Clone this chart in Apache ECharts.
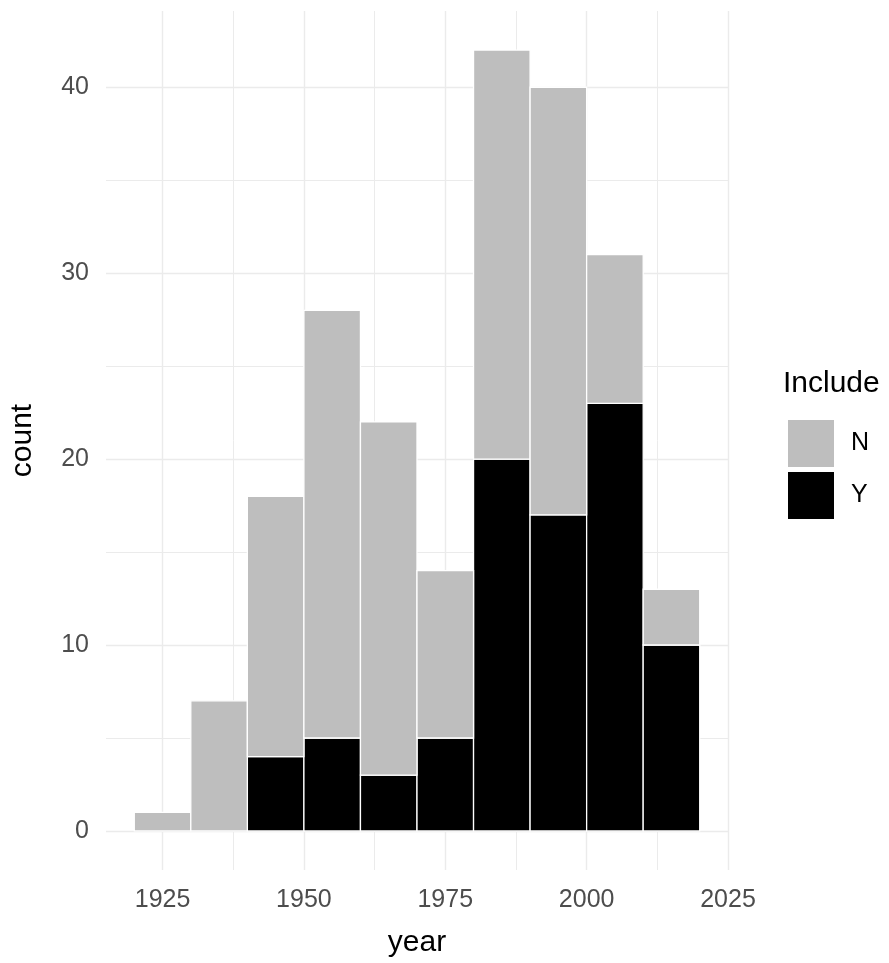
<!DOCTYPE html>
<html>
<head>
<meta charset="utf-8">
<script src="https://cdn.jsdelivr.net/npm/echarts@6/dist/echarts.min.js"></script>
<style>
html,body{margin:0;padding:0;background:#fff;}
#chart{width:889px;height:963px;}
</style>
</head>
<body>
<div id="chart"></div>
<script>
// Histogram bins (binwidth 10 years)
const binStarts = [1920, 1930, 1940, 1950, 1960, 1970, 1980, 1990, 2000, 2010];
const binWidth = 10;
// counts per bin
const countY = [0, 0, 4, 5, 3, 5, 20, 17, 23, 10];
const countN = [1, 7, 14, 23, 19, 9, 22, 23, 8, 3];
const xTicks = [1925, 1950, 1975, 2000, 2025];
const xMinor = [1937.5, 1962.5, 1987.5, 2012.5];
const yTicks = [0, 10, 20, 30, 40];
const yMinor = [5, 15, 25, 35];

const FONT = 'Liberation Sans, Arial, sans-serif';
const colorN = '#bebebe';
const colorY = '#000000';

// stacked: Y at bottom, N on top
const dataY = [], dataN = [];
binStarts.forEach((s, i) => {
  if (countY[i] > 0) dataY.push([s, s + binWidth, 0, countY[i]]);
  if (countN[i] > 0) dataN.push([s, s + binWidth, countY[i], countY[i] + countN[i]]);
});

function makeRender(color) {
  return function (params, api) {
    const p0 = api.coord([api.value(0), api.value(2)]);
    const p1 = api.coord([api.value(1), api.value(3)]);
    return {
      type: 'rect',
      shape: { x: p0[0], y: p1[1], width: p1[0] - p0[0], height: p0[1] - p1[1] },
      style: { fill: color, stroke: '#ffffff', lineWidth: 1.3 }
    };
  };
}

const gridColor = '#ebebeb';
const chart = echarts.init(document.getElementById('chart'), null, { renderer: 'canvas' });
chart.setOption({
  animation: false,
  backgroundColor: '#ffffff',
  title: {
    text: 'Include', left: 778, top: 364,
    textStyle: { fontFamily: FONT, fontSize: 30, fontWeight: 'normal', color: '#000' }
  },
  legend: {
    orient: 'vertical', left: 783, top: 415,
    itemWidth: 46, itemHeight: 47, itemGap: 5,
    icon: 'rect',
    data: [
      { name: 'N', itemStyle: { color: colorN } },
      { name: 'Y', itemStyle: { color: colorY } }
    ],
    textStyle: { fontFamily: FONT, fontSize: 25, color: '#000', padding: [0, 0, 0, 12] }
  },
  grid: { left: 101, top: 11, width: 627, height: 859, containLabel: false },
  xAxis: [
    {
      type: 'value', min: 1915, max: 2025,
      name: 'year', nameLocation: 'middle', nameGap: 58,
      nameTextStyle: { fontFamily: FONT, fontSize: 30, color: '#000' },
      axisLine: { show: false },
      axisTick: { show: false, customValues: xTicks },
      axisLabel: {
        customValues: xTicks,
        formatter: v => String(v),
        fontFamily: FONT, fontSize: 25, color: '#4d4d4d', margin: 18
      },
      splitLine: { show: true, lineStyle: { color: gridColor, width: 1.4 } }
    },
    {
      type: 'value', min: 1915, max: 2025, position: 'bottom',
      axisLine: { show: false },
      axisTick: { show: false, customValues: xMinor },
      axisLabel: { show: false, customValues: xMinor },
      splitLine: { show: true, lineStyle: { color: gridColor, width: 1 } }
    }
  ],
  yAxis: [
    {
      type: 'value', min: -2.1, max: 44.1,
      name: 'count', nameLocation: 'middle', nameGap: 68, nameRotate: 90,
      nameTextStyle: { fontFamily: FONT, fontSize: 30, color: '#000' },
      axisLine: { show: false },
      axisTick: { show: false, customValues: yTicks },
      axisLabel: {
        customValues: yTicks,
        formatter: v => String(v),
        fontFamily: FONT, fontSize: 25, color: '#4d4d4d', margin: 17
      },
      splitLine: { show: true, lineStyle: { color: gridColor, width: 1.4 } }
    },
    {
      type: 'value', min: -2.1, max: 44.1, position: 'left',
      axisLine: { show: false },
      axisTick: { show: false, customValues: yMinor },
      axisLabel: { show: false, customValues: yMinor },
      splitLine: { show: true, lineStyle: { color: gridColor, width: 1 } }
    }
  ],
  series: [
    {
      name: 'Y', type: 'custom', xAxisIndex: 0, yAxisIndex: 0,
      itemStyle: { color: colorY },
      renderItem: makeRender(colorY),
      encode: { x: [0, 1], y: [2, 3] },
      data: dataY, z: 3
    },
    {
      name: 'N', type: 'custom', xAxisIndex: 0, yAxisIndex: 0,
      itemStyle: { color: colorN },
      renderItem: makeRender(colorN),
      encode: { x: [0, 1], y: [2, 3] },
      data: dataN, z: 3
    }
  ]
});
</script>
</body>
</html>
